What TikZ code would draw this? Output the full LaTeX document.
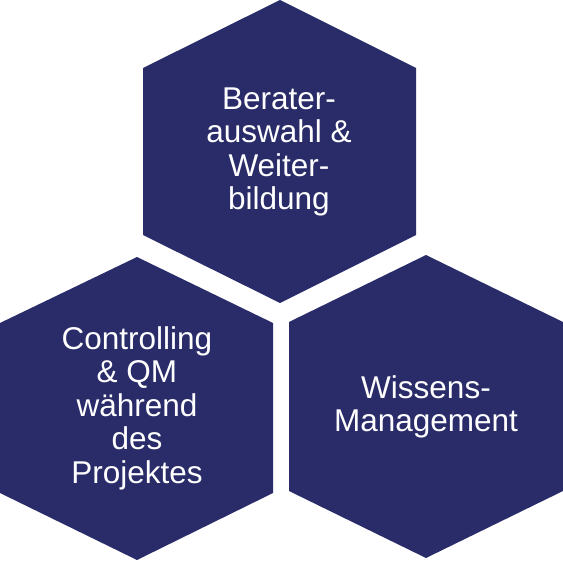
\documentclass[tikz,border=0pt]{standalone}
\usepackage{fontspec}
\setmainfont{Liberation Sans}
\definecolor{HexNavy}{HTML}{292C69}
\usetikzlibrary{positioning}
\tikzset{
  hexfill/.style={fill=HexNavy},
  hexlabel/.style={text=white, align=center, inner sep=0pt, font=\fontsize{31.5}{33.5}\selectfont}
}

\begin{document}
\begin{tikzpicture}[x=1pt,y=-1pt]
  \useasboundingbox (0,0) rectangle (563,562);

  % top hexagon
  \fill[hexfill] (280,0) -- (416,68) -- (416,235) -- (280,303) -- (143,235) -- (143,68) -- cycle;
  \node[hexlabel] (berater) at (279,152) {Berater-\\auswahl \&\\Weiter-\\bildung};

  % bottom left hexagon
  \fill[hexfill] (137,257) -- (273,323) -- (273,493) -- (137,560) -- (0,493) -- (0,323) -- cycle;
  \node[hexlabel] (controlling) at (137,408) {Controlling\\\& QM\\während\\des\\Projektes};

  % bottom right hexagon
  \fill[hexfill] (426,255) -- (563,322) -- (563,491) -- (426,558) -- (289,491) -- (289,322) -- cycle;
  \node[hexlabel] (wissen) at (426,407) {Wissens-\\Management};
\end{tikzpicture}
\end{document}
